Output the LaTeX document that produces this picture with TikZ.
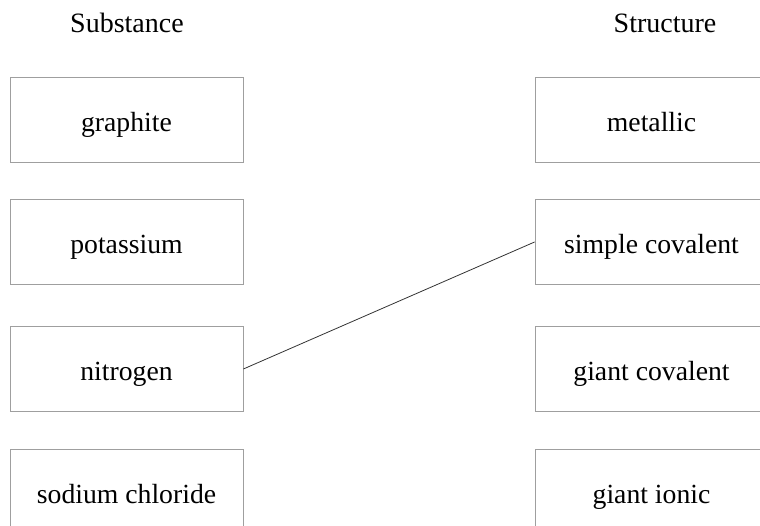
\documentclass[tikz,border=0pt]{standalone}
\usepackage{fontspec}
\setmainfont{Liberation Serif}
\usetikzlibrary{positioning}

\begin{document}
\begin{tikzpicture}[x=1pt, y=1pt]
			\tikzstyle{choice}=[draw=gray!75, line width=0.8pt, minimum height=85pt, minimum width=233pt, inner sep=0pt, text height=27pt, text depth=3pt, fill=none, text=black, font=\fontsize{27.7}{32}\selectfont]
			\tikzstyle{heading}=[anchor=base, text=black, font=\fontsize{28}{32}\selectfont]
			
			\useasboundingbox (0,0) rectangle (760,526);
			\clip (0,0) rectangle (760,526);
			
			\node (hsub) at (127,493) [heading] {Substance};
			\node (hstr) at (665,493) [heading] {Structure};
			
			\node (s0) at (126.5,406.5) [choice] {graphite};
			\node (s1) at (126.5,284) [choice] {potassium};
			\node (s2) at (126.5,157) [choice] {nitrogen};
			\node (s3) at (126.5,34.5) [choice] {sodium chloride};
			
			\node (t0) at (651.5,406.5) [choice] {metallic};
			\node (t1) at (651.5,284) [choice] {simple covalent};
			\node (t2) at (651.5,157) [choice] {giant covalent};
			\node (t3) at (651.5,34.5) [choice] {giant ionic};
			
			\draw [line width=0.8pt, black!80] (s2.east) -- (t1.west);
\end{tikzpicture}
\end{document}
